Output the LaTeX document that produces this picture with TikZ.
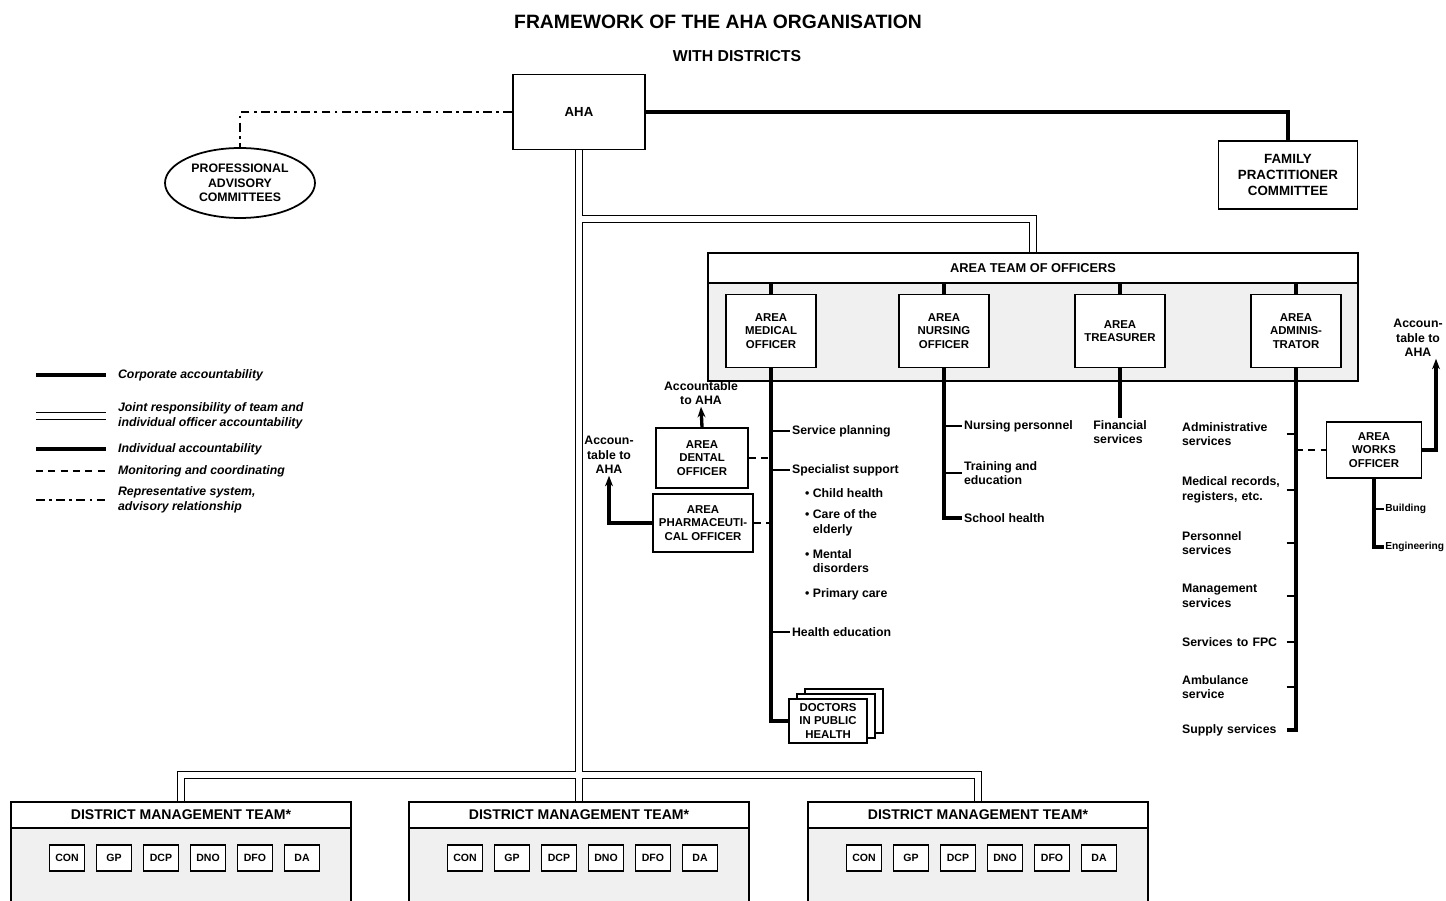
\documentclass[tikz,border=0pt]{standalone}
\usepackage{fontspec}
\setmainfont{Liberation Sans}
\usetikzlibrary{arrows.meta,positioning,shapes.geometric}

\newcommand\boxfont{\fontsize{6.5}{7.6}\selectfont\bfseries}
\newcommand\lblfont{\fontsize{7}{8.2}\selectfont\bfseries}
\newcommand\keyfont{\fontsize{7}{8.2}\selectfont\bfseries\itshape}

\begin{document}
\begin{tikzpicture}[x=0.02cm,y=-0.02cm,
    every node/.style={font=\boxfont},
    box/.style={draw,line width=1pt,fill=white,align=center,inner sep=0pt},
    officer/.style={box,minimum width=1.8cm,minimum height=1.46cm},
    member/.style={box,line width=0.9pt,minimum width=0.7cm,minimum height=0.52cm,font=\fontsize{6}{7}\selectfont\bfseries},
    team/.style={draw,line width=1pt,fill=black!6,minimum width=6.8cm,minimum height=2.6cm,anchor=north},
    teamhead/.style={box,minimum width=6.8cm,minimum height=0.5cm,anchor=north,font=\fontsize{8}{9}\selectfont\bfseries},
    lbl/.style={font=\lblfont,align=left,anchor=west,inner sep=1pt},
    corp/.style={line width=2.6pt},
    joint/.style={line width=0.8pt,double distance=3pt},
    indiv/.style={line width=1.9pt},
    tick/.style={line width=1.1pt},
    monit/.style={line width=1.5pt,dash pattern=on 4pt off 3pt},
    repr/.style={line width=1.3pt,dash pattern=on 5pt off 2.5pt on 1.5pt off 2.5pt},
    upto/.style={indiv,-{Stealth[length=6pt,width=4.5pt]}}
]
\useasboundingbox (0,0) rectangle (1446,901);

% heading
\node[font=\fontsize{11}{13}\selectfont\bfseries] (title) at (718,22) {FRAMEWORK OF THE AHA ORGANISATION};
\node[font=\fontsize{9}{11}\selectfont\bfseries] (subtitle) at (737,56) {WITH DISTRICTS};

% authority and committees
\node[box,minimum width=2.64cm,minimum height=1.5cm,font=\fontsize{7.5}{9}\selectfont\bfseries] (aha) at (579,112) {AHA};
\node[box,ellipse,minimum width=3cm,minimum height=1.4cm,font=\fontsize{7}{8.2}\selectfont\bfseries] (pac) at (240,183) {PROFESSIONAL\\ADVISORY\\COMMITTEES};
\node[box,minimum width=2.78cm,minimum height=1.36cm,font=\fontsize{7.6}{9}\selectfont\bfseries] (fpc) at (1288,175) {FAMILY\\PRACTITIONER\\COMMITTEE};

% area team of officers
\node[team,minimum width=13cm,minimum height=2.56cm] (ato) at (1033,252) {};
\node[teamhead,minimum width=13cm,minimum height=0.6cm,font=\fontsize{7.3}{9}\selectfont\bfseries] (atoh) at (ato.north) {AREA TEAM OF OFFICERS};
\node[officer] (amo) at (771,331) {AREA\\MEDICAL\\OFFICER};
\node[officer] (ano) at (944,331) {AREA\\NURSING\\OFFICER};
\node[officer] (atr) at (1120,331) {AREA\\TREASURER};
\node[officer] (aa) at (1296,331) {AREA\\ADMINIS-\\TRATOR};

% medical officer side
\node[box,minimum width=1.84cm,minimum height=1.2cm] (ado) at (702,458) {AREA\\DENTAL\\OFFICER};
\node[box,minimum width=2cm,minimum height=1.16cm] (apo) at (703,523) {AREA\\PHARMACEUTI-\\CAL OFFICER};
\node[box,minimum width=1.56cm,minimum height=0.88cm] (doc3) at (844,711) {};
\node[box,minimum width=1.56cm,minimum height=0.88cm] (doc2) at (836,716) {};
\node[box,minimum width=1.56cm,minimum height=0.88cm] (doc) at (828,721) {DOCTORS\\IN PUBLIC\\HEALTH};
\node[lbl,anchor=center,align=center] (acc1) at (701,393) {Accountable\\to AHA};
\node[lbl,anchor=center,align=center] (acc2) at (609,455) {Accoun-\\table to\\AHA};
\node[lbl] (splan) at (790,431) {Service planning};
\node[lbl] (sspec) at (790,470) {Specialist support};
\node[lbl] (child) at (803,493) {\textbullet\ Child health};
\node[lbl] (elder) at (803,523) {\textbullet\ Care of the\\\hphantom{\textbullet\ }elderly};
\node[lbl] (mental) at (803,561) {\textbullet\ Mental\\\hphantom{\textbullet\ }disorders};
\node[lbl] (prim) at (803,594) {\textbullet\ Primary care};
\node[lbl] (hedu) at (790,632) {Health education};

% nursing and treasurer
\node[lbl] (npers) at (962,426) {Nursing personnel};
\node[lbl] (train) at (962,473) {Training and\\education};
\node[lbl] (school) at (962,518) {School health};
\node[lbl,below=1cm of atr] (fin) {Financial\\services};

% administrator side
\foreach \n/\y/\t in {adm/434/{Administrative\\services},medrec/490/{Medical records,\\registers, etc.},
    pers/543/{Personnel\\services},mgmt/596/{Management\\services},tofpc/642/{Services to FPC},
    amb/687/{Ambulance\\service},supply/730/{Supply services}}
  \node[lbl,text width=2.05cm] (\n) at (1180,\y) {\t};
\node[box,minimum width=1.9cm,minimum height=1.12cm] (awo) at (1374,450) {AREA\\WORKS\\OFFICER};
\node[lbl,anchor=center,align=center] (acc3) at (1418,338) {Accoun-\\table to\\AHA};
\coordinate (up3) at (1436,0);
\node[lbl,font=\fontsize{5.8}{7}\selectfont\bfseries,inner sep=0.5pt] (bldg) at (1384,509) {Building};
\node[lbl,font=\fontsize{5.8}{7}\selectfont\bfseries,inner sep=0.5pt] (engg) at (1384,547) {Engineering};

% district management teams
\foreach \d/\c in {d1/181,d2/579,d3/978}{
  \node[team] (\d) at (\c,801) {};
  \node[teamhead,minimum height=0.52cm] (\d-head) at (\d.north) {DISTRICT MANAGEMENT TEAM*};
  \foreach \m [count=\i] in {CON,GP,DCP,DNO,DFO,DA}
    \node[member] (\d-\m) at (\c-161+47*\i,858) {\m};
}

% legend
\node[lbl,font=\keyfont] (k1) at (116,375) {Corporate accountability};
\node[lbl,font=\keyfont] (k2) at (116,416) {Joint responsibility of team and\\individual officer accountability};
\node[lbl,font=\keyfont] (k3) at (116,449) {Individual accountability};
\node[lbl,font=\keyfont] (k4) at (116,471) {Monitoring and coordinating};
\node[lbl,font=\keyfont] (k5) at (116,500) {Representative system,\\advisory relationship};
\foreach \k/\s in {k1/corp,k2/joint,k3/indiv,k4/monit,k5/repr}
  \draw[\s] ([xshift=-1.6cm]\k.west) -- ([xshift=-0.2cm]\k.west);

% connectors
\coordinate (branch) at (579,219);
\coordinate (bus) at (579,775);
\draw[corp] (aha.east) -| (fpc.north);
\draw[repr] (aha.west) -| (pac.north);
\draw[joint] (aha.south) -- (d2.north) (branch) -| (atoh.north) (d1.north) |- (bus) -| (d3.north);
\foreach \o in {amo,ano,atr,aa}
  \draw[indiv] (atoh.south -| \o.north) -- (\o.north);
\draw[indiv] (amo.south) |- (doc.west);
\foreach \l in {splan,sspec,hedu}
  \draw[tick] (amo.south |- \l.west) -- (\l.west);
\draw[monit] (ado.east) -- (amo.south |- ado.east);
\draw[monit] (apo.east) -- (amo.south |- apo.east);
\draw[upto] (ado.north) -- (acc1.south);
\draw[upto] (apo.west) -| (acc2.south);
\draw[indiv] (ano.south) |- (school.west);
\foreach \l in {npers,train}
  \draw[tick] (ano.south |- \l.west) -- (\l.west);
\draw[indiv] (atr.south) -- (fin.north);
\draw[indiv] (aa.south) |- (supply.east);
\foreach \l in {adm,medrec,pers,mgmt,tofpc,amb}
  \draw[tick] (\l.east) -- (aa.south |- \l.east);
\draw[monit] (aa.south |- awo.west) -- (awo.west);
\draw[upto] (awo.east) -| (up3 |- acc3.south);
\draw[indiv] (awo.south) |- (engg.west);
\draw[tick] (awo.south |- bldg.west) -- (bldg.west);
\end{tikzpicture}
\end{document}
